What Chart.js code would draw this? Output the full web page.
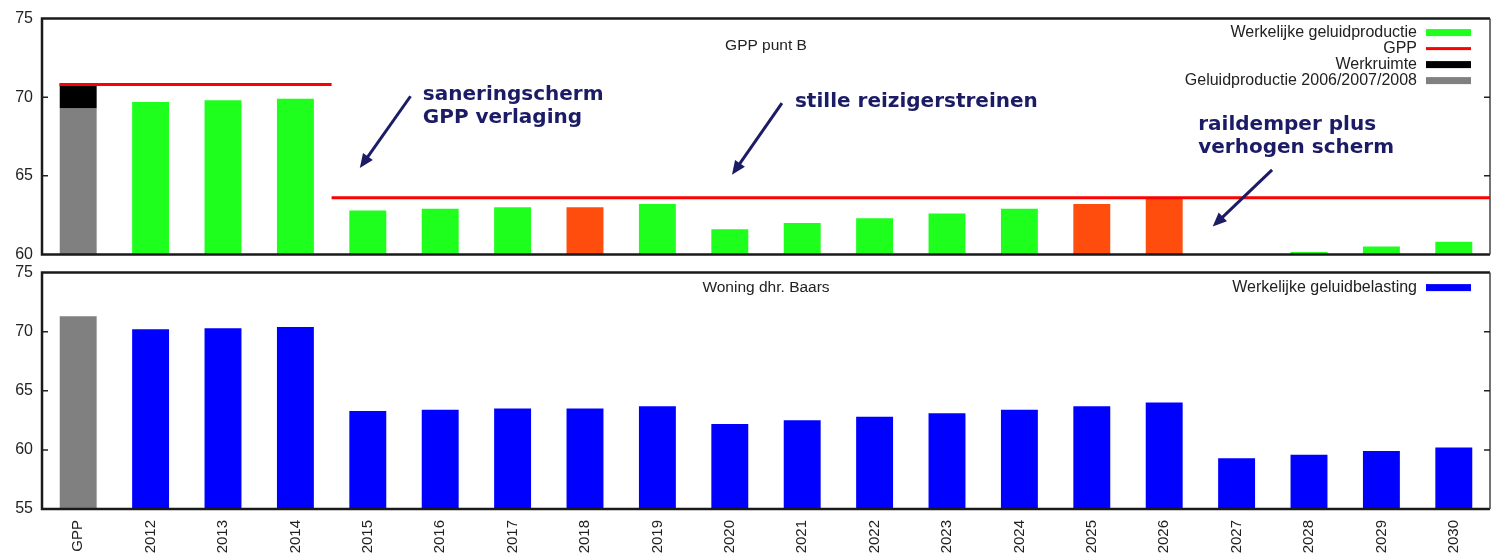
<!DOCTYPE html>
<html>
<head>
<meta charset="utf-8">
<script src="https://cdn.jsdelivr.net/npm/chart.js@4.4.1/dist/chart.umd.min.js"></script>
<style>
  html, body { margin: 0; padding: 0; background: #fff; overflow: hidden; }
  canvas { position: absolute; left: 0; }
  #gpp-chart { top: 0; }
  #woning-chart { top: 254px; }
</style>
</head>
<body>
<canvas id="gpp-chart" width="1493" height="273"></canvas>
<canvas id="woning-chart" width="1493" height="302"></canvas>
<script>
const categories = ['GPP', '2012', '2013', '2014', '2015', '2016', '2017', '2018', '2019', '2020',
                    '2021', '2022', '2023', '2024', '2025', '2026', '2027', '2028', '2029', '2030'];

// bovenste grafiek: GPP punt B
const geluidproductie = [null, 69.7, 69.8, 69.9, 62.8, 62.9, 63.0, 63.0, 63.2, 61.6,
                         62.0, 62.3, 62.6, 62.9, 63.2, 63.6, 59.8, 60.15, 60.5, 60.8];
const overschrijdingJaren = ['2018', '2025', '2026'];
const gppPlafond = [70.8, 70.8, 70.8, 70.8, 63.6, 63.6, 63.6, 63.6, 63.6, 63.6,
                    63.6, 63.6, 63.6, 63.6, 63.6, 63.6, 63.6, 63.6, 63.6, 63.6];
const referentie0608 = [69.3, null, null, null, null, null, null, null, null, null,
                        null, null, null, null, null, null, null, null, null, null];
const werkruimte = [[69.3, 70.8], null, null, null, null, null, null, null, null, null,
                    null, null, null, null, null, null, null, null, null, null];

// onderste grafiek: woning dhr. Baars
const geluidbelasting = [null, 70.2, 70.3, 70.4, 63.3, 63.4, 63.5, 63.5, 63.7, 62.2,
                         62.5, 62.8, 63.1, 63.4, 63.7, 64.0, 59.3, 59.6, 59.9, 60.2];
const gppWoning = [71.3, null, null, null, null, null, null, null, null, null,
                   null, null, null, null, null, null, null, null, null, null];

const topTicks = [60, 65, 70, 75];
const bottomTicks = [55, 60, 65, 70, 75];

// tekst + pijl, in (categorie-index, dB)
const annotations = [
    { text: ['saneringscherm', 'GPP verlaging'], at: [4.76, 70.13], from: [4.59, 70.06], to: [3.89, 65.5] },
    { text: ['stille reizigerstreinen'], at: [9.9, 69.68], from: [9.72, 69.62], to: [9.03, 65.06] },
    { text: ['raildemper plus', 'verhogen scherm'], at: [15.47, 68.23], from: [16.49, 65.38], to: [15.67, 61.77] }
];

const GREEN = '#1eff1e';
const ORANGE = '#ff4d0d';
const BLUE = '#0000ff';
const GREY = '#808080';
const RED = '#ff0000';
const FONT = '"Liberation Sans", Arial, sans-serif';

// GPP als trap: horizontale stukken per categorie, onderbroken waar de waarde wijzigt
function stepPoints(values) {
    const pts = [];
    const n = values.length;
    for (let i = 0; i < n; i++) {
        if (i === 0) {
            pts.push({ x: -0.26, y: values[0] });
        } else if (values[i] !== values[i - 1]) {
            pts.push({ x: i - 0.5, y: values[i - 1] });
            pts.push({ x: i - 0.5, y: null });
            pts.push({ x: i - 0.5, y: values[i] });
        }
    }
    pts.push({ x: n - 0.5, y: values[n - 1] });
    return pts;
}

const frame = {
    id: 'frame',
    afterDatasetsDraw(chart, args, opts) {
        const { ctx, chartArea: a, scales: { y } } = chart;
        ctx.save();
        ctx.strokeStyle = '#1a1a1a';
        ctx.lineWidth = 2.5;
        ctx.beginPath();
        ctx.moveTo(a.right, a.top); ctx.lineTo(a.left, a.top);
        ctx.lineTo(a.left, a.bottom); ctx.lineTo(a.right, a.bottom);
        ctx.stroke();
        ctx.lineWidth = 1.5;
        ctx.strokeStyle = '#444';
        ctx.beginPath();
        ctx.moveTo(a.right, a.top); ctx.lineTo(a.right, a.bottom);
        ctx.stroke();
        // ticks naar binnen
        ctx.lineWidth = 1.5;
        ctx.strokeStyle = '#222';
        y.ticks.forEach(t => {
            const py = y.getPixelForValue(t.value);
            if (Math.abs(py - a.top) < 2 || Math.abs(py - a.bottom) < 2) return;
            ctx.beginPath();
            ctx.moveTo(a.left, py); ctx.lineTo(a.left + 6, py);
            ctx.moveTo(a.right, py); ctx.lineTo(a.right - 6, py);
            ctx.stroke();
        });
        ctx.restore();
    }
};

const panelText = {
    id: 'panelText',
    afterDraw(chart, args, opts) {
        const { ctx, chartArea: a } = chart;
        ctx.save();
        ctx.fillStyle = '#222';
        ctx.textBaseline = 'middle';
        // titel
        ctx.font = '15.5px ' + FONT;
        ctx.textAlign = 'center';
        ctx.fillText(opts.title, (a.left + a.right) / 2, a.top + opts.titleOffset);
        // legenda rechtsboven, symbool rechts van de tekst
        ctx.font = '16px ' + FONT;
        ctx.textAlign = 'right';
        const items = chart.data.datasets.filter(d => !d.hideInLegend);
        items.forEach((d, i) => {
            const cy = a.top + opts.legendOffset + i * 16;
            ctx.fillStyle = '#222';
            ctx.fillText(d.label, a.right - 73, cy);
            const color = d.legendColor || d.borderColor || d.backgroundColor;
            ctx.fillStyle = color;
            if (d.type === 'line') {
                ctx.fillRect(a.right - 64, cy - 1.5, 45, 3);
            } else {
                ctx.fillRect(a.right - 64, cy - 3.5, 45, 7);
            }
        });
        ctx.restore();
    }
};

const arrows = {
    id: 'arrows',
    afterDraw(chart, args, opts) {
        const { ctx, scales: { xl, y } } = chart;
        const px = p => [xl.getPixelForValue(p[0]), y.getPixelForValue(p[1])];
        ctx.save();
        ctx.fillStyle = '#1b1b66';
        ctx.strokeStyle = '#1b1b66';
        ctx.font = 'bold 20px "DejaVu Sans", Verdana, sans-serif';
        ctx.textAlign = 'left';
        ctx.textBaseline = 'middle';
        opts.items.forEach(a => {
            const [tx, ty] = px(a.at);
            a.text.forEach((line, i) => ctx.fillText(line, tx, ty + i * 23));
            const [x1, y1] = px(a.from);
            const [x2, y2] = px(a.to);
            const ang = Math.atan2(y2 - y1, x2 - x1);
            const head = 14;
            ctx.lineWidth = 3;
            ctx.beginPath();
            ctx.moveTo(x1, y1);
            ctx.lineTo(x2 - Math.cos(ang) * head * 0.8, y2 - Math.sin(ang) * head * 0.8);
            ctx.stroke();
            ctx.beginPath();
            ctx.moveTo(x2, y2);
            ctx.lineTo(x2 - Math.cos(ang) * head + Math.sin(ang) * 6, y2 - Math.sin(ang) * head - Math.cos(ang) * 6);
            ctx.lineTo(x2 - Math.cos(ang) * head - Math.sin(ang) * 6, y2 - Math.sin(ang) * head + Math.cos(ang) * 6);
            ctx.closePath();
            ctx.fill();
        });
        ctx.restore();
    }
};

function yAxis(min, max, ticks) {
    return {
        min: min,
        max: max,
        afterBuildTicks: s => { s.ticks = ticks.map(v => ({ value: v })); },
        afterFit: s => { s.width = 42; },
        grid: { display: false, drawTicks: false },
        border: { display: false },
        ticks: { padding: 9, color: '#222', font: { family: FONT, size: 16 } }
    };
}

const barDefaults = { grouped: false, barPercentage: 0.51, categoryPercentage: 1.0, clip: 0 };

new Chart(document.getElementById('gpp-chart'), {
    type: 'bar',
    data: {
        labels: categories,
        datasets: [
            Object.assign({
                label: 'Werkelijke geluidproductie',
                data: geluidproductie,
                backgroundColor: categories.map(c => overschrijdingJaren.includes(c) ? ORANGE : GREEN),
                legendColor: GREEN,
                order: 1
            }, barDefaults),
            {
                type: 'line',
                label: 'GPP',
                data: stepPoints(gppPlafond),
                xAxisID: 'xl',
                borderColor: RED,
                borderWidth: 3,
                pointRadius: 0,
                spanGaps: false,
                order: 0
            },
            Object.assign({
                label: 'Werkruimte',
                data: werkruimte,
                backgroundColor: '#000000',
                order: 1
            }, barDefaults),
            Object.assign({
                label: 'Geluidproductie 2006/2007/2008',
                data: referentie0608,
                backgroundColor: GREY,
                order: 2
            }, barDefaults)
        ]
    },
    options: {
        responsive: false,
        animation: false,
        devicePixelRatio: 1,
        layout: { padding: { top: 18, right: 3, bottom: 18, left: 0 } },
        scales: {
            x: { type: 'category', display: false, offset: true },
            xl: {
                type: 'linear', display: false, offset: false,
                grid: { offset: false },
                min: -0.5, max: categories.length - 0.5
            },
            y: yAxis(60, 75, topTicks)
        },
        plugins: {
            legend: { display: false },
            tooltip: { enabled: false },
            panelText: { title: 'GPP punt B', titleOffset: 27, legendOffset: 14 },
            arrows: { items: annotations }
        }
    },
    plugins: [frame, panelText, arrows]
});

new Chart(document.getElementById('woning-chart'), {
    type: 'bar',
    data: {
        labels: categories,
        datasets: [
            Object.assign({
                label: 'Werkelijke geluidbelasting',
                data: geluidbelasting,
                backgroundColor: BLUE,
                order: 1
            }, barDefaults),
            Object.assign({
                label: 'GPP',
                data: gppWoning,
                backgroundColor: GREY,
                hideInLegend: true,
                order: 1
            }, barDefaults)
        ]
    },
    options: {
        responsive: false,
        animation: false,
        devicePixelRatio: 1,
        layout: { padding: { top: 18, right: 3, bottom: 0, left: 0 } },
        scales: {
            x: {
                type: 'category',
                offset: true,
                afterFit: s => { s.height = 47; },
                grid: { display: false, drawTicks: false },
                border: { display: false },
                ticks: {
                    minRotation: 90,
                    maxRotation: 90,
                    autoSkip: false,
                    padding: 11,
                    color: '#222',
                    font: { family: FONT, size: 15 }
                }
            },
            y: yAxis(55, 75, bottomTicks)
        },
        plugins: {
            legend: { display: false },
            tooltip: { enabled: false },
            panelText: { title: 'Woning dhr. Baars', titleOffset: 15, legendOffset: 15 }
        }
    },
    plugins: [frame, panelText]
});
</script>
</body>
</html>
